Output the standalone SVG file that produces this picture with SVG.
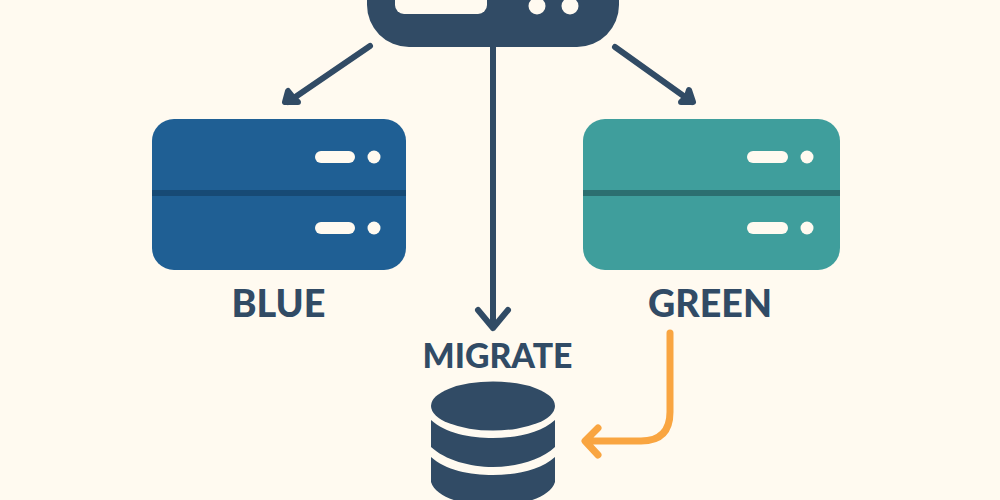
<svg xmlns="http://www.w3.org/2000/svg" width="1000" height="500" viewBox="0 0 1000 500">
<style>
.bg{fill:#fffaf0}
.dark{fill:#314b65}
.hole{fill:#fffaf0}
.link{fill:none;stroke:#314b65;stroke-width:6;stroke-linecap:round;stroke-linejoin:round}
.head{fill:#314b65;stroke:#314b65;stroke-width:6;stroke-linecap:round;stroke-linejoin:round}
.orange{fill:none;stroke:#f9a541;stroke-width:7;stroke-linecap:round;stroke-linejoin:round}
.label{font-family:"Lato","Liberation Sans",sans-serif;font-weight:900;fill:#314b65;text-anchor:middle}
</style>
<rect class="bg" width="1000" height="500"/>
<g id="connectors">
<path class="link" d="M370 46L288 102"/>
<path class="head" d="M288 91L285 102L298 102L292 96Z"/>
<path class="link" d="M615 47L692 102"/>
<path class="head" d="M689 90L693 102L681 102L687 96Z"/>
<path class="link" d="M493 47V328M478 310L493 328L508 310"/>
<path class="orange" d="M670 333V412Q670 441 641 441H586M598 428L585 441L598 455"/>
</g>
<g id="router">
<rect class="dark" x="367" y="-42" width="252" height="89" rx="42"/>
<rect class="hole" x="395" y="-14" width="92" height="28" rx="9"/>
<circle class="hole" cx="537" cy="6" r="8.5"/>
<circle class="hole" cx="570" cy="6" r="8.5"/>
</g>
<g id="blue">
<rect x="152" y="119" width="254" height="151" rx="22" fill="#1f5f94"/>
<rect x="152" y="190" width="254" height="6" fill="#174a75"/>
<rect class="hole" x="315" y="151" width="40" height="12" rx="6"/>
<circle class="hole" cx="374" cy="157" r="6.5"/>
<rect class="hole" x="315" y="222" width="40" height="12" rx="6"/>
<circle class="hole" cx="374" cy="228" r="6.5"/>
<text class="label" x="278.500" y="317" font-size="37" textLength="94" lengthAdjust="spacingAndGlyphs">BLUE</text>
</g>
<g id="green">
<rect x="583" y="119" width="257" height="151" rx="22" fill="#3f9e9c"/>
<rect x="583" y="190" width="257" height="6" fill="#2c6f70"/>
<rect class="hole" x="747" y="151" width="41" height="12" rx="6"/>
<circle class="hole" cx="807" cy="157" r="6.5"/>
<rect class="hole" x="747" y="222" width="41" height="12" rx="6"/>
<circle class="hole" cx="807" cy="228" r="6.5"/>
<text class="label" x="710" y="317" font-size="37" textLength="124" lengthAdjust="spacingAndGlyphs">GREEN</text>
</g>
<g id="database">
<text class="label" x="497.500" y="368" font-size="35" textLength="150" lengthAdjust="spacingAndGlyphs">MIGRATE</text>
<ellipse class="dark" cx="493" cy="406" rx="62" ry="24.500"/>
<path class="dark" d="M431 420C445 433 470 438 493 438C516 438 541 433 555 420V447C541 460 516 467 493 467C470 467 445 460 431 447Z"/>
<path class="dark" d="M431 457C445 470 470 475 493 475C516 475 541 470 555 457V482C550 498 520 506 493 506C466 506 436 498 431 482Z"/>
</g>
</svg>
